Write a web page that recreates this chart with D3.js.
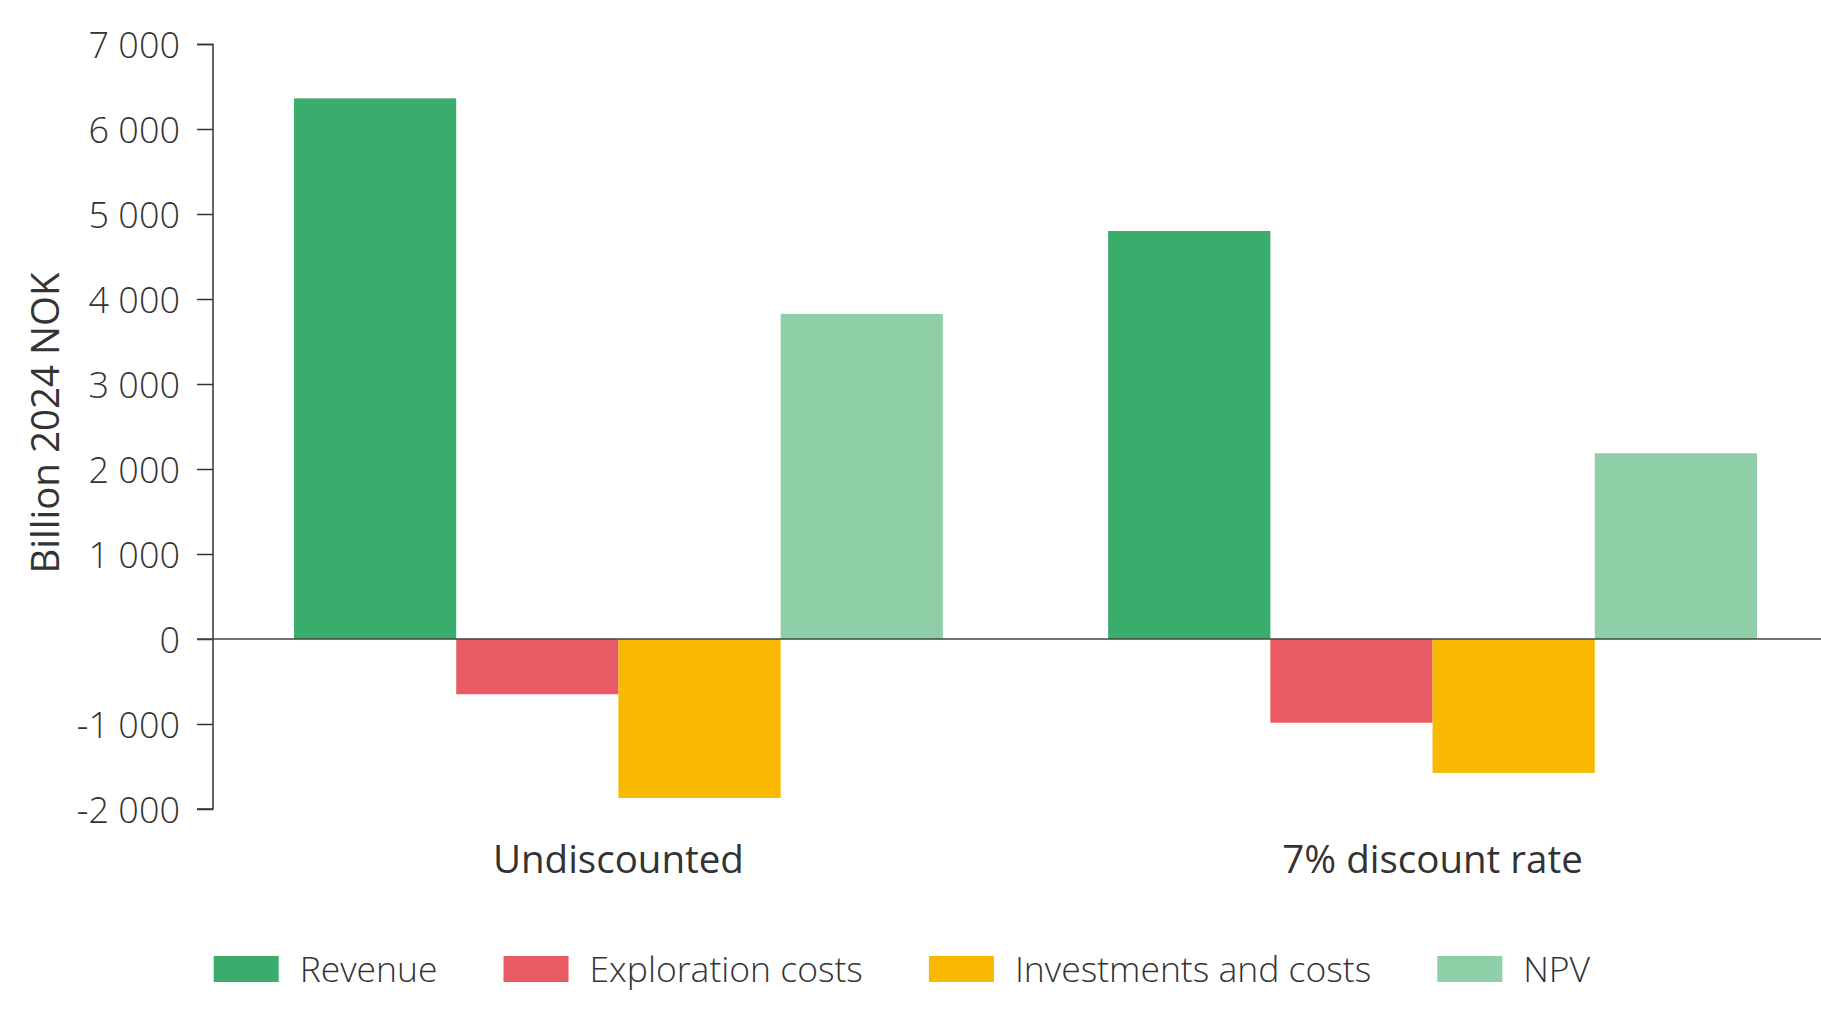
<!DOCTYPE html>
<html><head><meta charset="utf-8">
<script src="https://cdn.jsdelivr.net/npm/d3@7"></script>
<style>
html,body{margin:0;padding:0;background:#fff;}
svg{display:block;font-family:"Open Sans",sans-serif;}
</style></head>
<body>
<svg id="chart" width="1821" height="1024"></svg>
<script>
const categories = ["Undiscounted", "7% discount rate"];
const seriesNames = ["Revenue", "Exploration costs", "Investments and costs", "NPV"];
const seriesColors = ["#3aad6c", "#e95a62", "#f8b900", "#8ecfa8"];
const revenue = [6360, 4800];
const exploration = [-650, -985];
const investments = [-1870, -1575];
const npv = [3825, 2185];
const yTicks = [-2000, -1000, 0, 1000, 2000, 3000, 4000, 5000, 6000, 7000];
const yTitle = "Billion 2024 NOK";

const seriesValues = [revenue, exploration, investments, npv];
const svg = d3.select("#chart");
const textColor = "#333";

const y = d3.scaleLinear().domain([-2000, 7000]).range([809, 44]);
const x0 = d3.scaleBand().domain(categories).range([213, 1838]).paddingInner(0.203).paddingOuter(0.0995);
const x1 = d3.scaleBand().domain(seriesNames).range([0, x0.bandwidth()]).padding(0);

const fmt = v => {
  const s = d3.format(",")(Math.abs(v)).replace(/,/g, " ");
  return (v < 0 ? "-" : "") + s;
};

// bars
const g = svg.append("g");
categories.forEach((c, ci) => {
  seriesNames.forEach((s, si) => {
    const v = seriesValues[si][ci];
    g.append("rect")
      .attr("x", x0(c) + x1(s))
      .attr("width", x1.bandwidth())
      .attr("y", Math.min(y(v), y(0)))
      .attr("height", Math.abs(y(v) - y(0)))
      .attr("fill", seriesColors[si]);
  });
});

// y axis
const yAxis = d3.axisLeft(y).tickValues(yTicks).tickFormat(fmt).tickSize(16).tickPadding(17);
const ga = svg.append("g").attr("transform", "translate(213,0)").call(yAxis);
ga.select(".domain").attr("stroke", textColor).attr("stroke-width", 1.5).attr("d", "M-16,44.5H0V809H-16");
ga.selectAll(".tick line").attr("stroke", textColor).attr("stroke-width", 1.5);
ga.selectAll(".tick text").attr("fill", textColor).attr("font-size", 36).attr("font-weight", 300)
  .attr("dy", "0.38em")
  .attr("font-family", "'Open Sans', sans-serif");

// zero line
svg.append("line").attr("x1", 197).attr("x2", 1821).attr("y1", y(0)).attr("y2", y(0))
  .attr("stroke", "#444").attr("stroke-width", 1.5);

// category labels
svg.selectAll(".cat").data(categories).enter().append("text")
  .attr("x", d => x0(d) + x0.bandwidth() / 2)
  .attr("y", 873)
  .attr("text-anchor", "middle")
  .attr("font-size", 38.5).attr("fill", textColor)
  .text(d => d);

// y title
svg.append("text")
  .attr("transform", "translate(59,423) rotate(-90)")
  .attr("text-anchor", "middle")
  .attr("font-size", 38.5).attr("fill", textColor)
  .text(yTitle);

// legend
let lx = 213.7;
const ly = 956;
seriesNames.forEach((s, i) => {
  svg.append("rect").attr("x", lx).attr("y", ly).attr("width", 65).attr("height", 26).attr("fill", seriesColors[i]);
  const t = svg.append("text").attr("x", lx + 86).attr("y", ly + 26)
    .attr("font-size", 35.5).attr("font-weight", 300).attr("fill", textColor).text(s);
  lx = lx + 86 + t.node().getComputedTextLength() + 66;
});
</script>
</body></html>
